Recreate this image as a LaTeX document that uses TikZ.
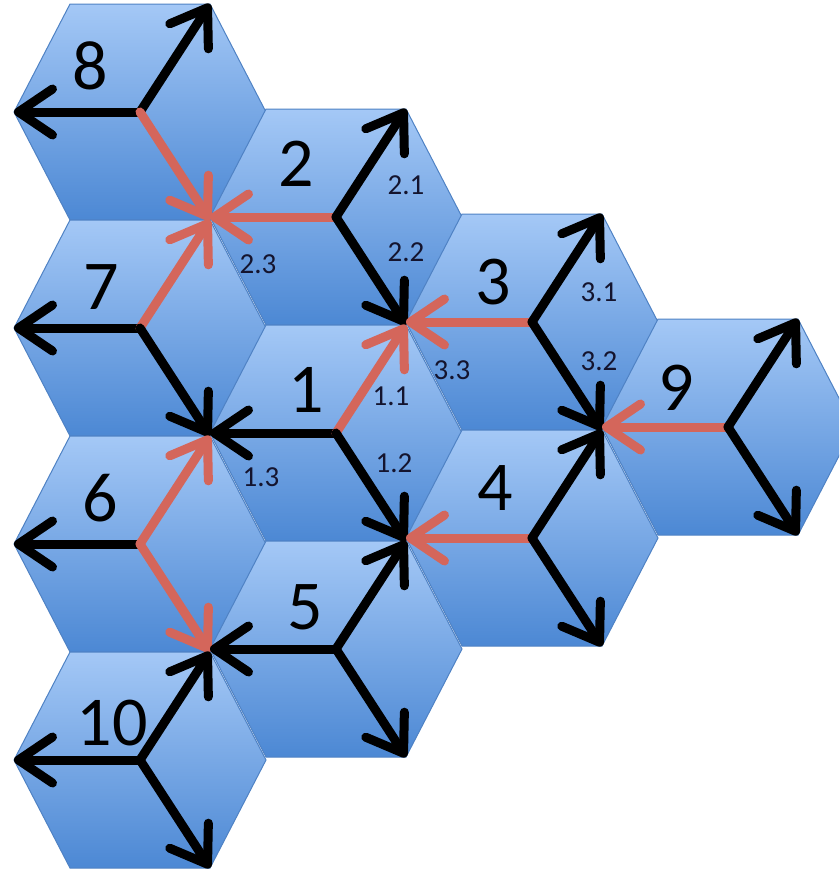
\documentclass[tikz,border=0pt]{standalone}
\usepackage{fontspec}
\setmainfont{Carlito}
\usetikzlibrary{arrows.meta}

\begin{document}
\begin{tikzpicture}[x=1pt,y=-1pt,
  esagono/.style={draw=bordoEsa, line width=1pt, top color=esaChiaro, bottom color=esaScuro},
  freccia/.style={line width=9pt, line cap=round, -{Straight Barb[length=34pt,width=46pt,round]}},
  nera/.style={freccia, draw=black},
  rossa/.style={freccia, draw=colRossa},
  numero/.style={font=\fontsize{70}{70}\selectfont, inner sep=0pt},
  sotto/.style={font=\fontsize{29}{29}\selectfont, inner sep=0pt, text=testoScuro}]

% Colori
\definecolor{esaChiaro}{HTML}{A4C8F6}
\definecolor{esaScuro}{HTML}{4C88D4}
\definecolor{bordoEsa}{HTML}{4F82C4}
\definecolor{colRossa}{HTML}{D4665B}
\definecolor{testoScuro}{HTML}{14142E}

% Dimensioni dell'esagono
\def\w{126}
\def\a{70}
\def\h{108}

\useasboundingbox (0,0) rectangle (839,876);
\clip (0,0) rectangle (839,876);

% Esagoni
\foreach \n/\x/\y in {8/140/112, 7/140/328, 6/140/544, 10/140/760,
                      2/336/217, 1/336/433, 5/336/649,
                      3/532/322, 4/532/538, 9/728/427}{
  \coordinate (h\n) at (\x,\y);
  \path[esagono] (h\n) ++(-\w,0) coordinate (h\n-o) -- ++(\w-\a,-\h)
    -- ++(2*\a,0) coordinate (h\n-ne) -- ++(\w-\a,\h)
    -- ++(\a-\w,\h) coordinate (h\n-se) -- ++(-2*\a,0) -- cycle;
}

% Esagono 8
\draw[nera] (h8) -- (h8-o);
\draw[nera] (h8) -- (h8-ne);
\draw[rossa] (h8) -- (h8-se);
\node[numero] (n8) at (90,66) {8};

% Esagono 7
\draw[nera] (h7) -- (h7-o);
\draw[rossa] (h7) -- (h7-ne);
\draw[nera] (h7) -- (h7-se);
\node[numero] (n7) at (101,287) {7};

% Esagono 6
\draw[nera] (h6) -- (h6-o);
\draw[rossa] (h6) -- (h6-ne);
\draw[rossa] (h6) -- (h6-se);
\node[numero] (n6) at (100,498) {6};

% Esagono 10
\draw[nera] (h10) -- (h10-o);
\draw[nera] (h10) -- (h10-ne);
\draw[nera] (h10) -- (h10-se);
\node[numero] (n10) at (112,723) {10};

% Esagono 2
\draw[rossa] (h2) -- (h2-o);
\draw[nera] (h2) -- (h2-ne);
\draw[nera] (h2) -- (h2-se);
\node[numero] (n2) at (296,164) {2};
\node[sotto] (l21) at (406,185) {2.1};
\node[sotto] (l22) at (406,252) {2.2};
\node[sotto] (l23) at (258,264) {2.3};

% Esagono 1
\draw[nera] (h1) -- (h1-o);
\draw[rossa] (h1) -- (h1-ne);
\draw[nera] (h1) -- (h1-se);
\node[numero] (n1) at (306,390) {1};
\node[sotto] (l11) at (391,396) {1.1};
\node[sotto] (l12) at (394,463) {1.2};
\node[sotto] (l13) at (261,477) {1.3};

% Esagono 5
\draw[nera] (h5) -- (h5-o);
\draw[nera] (h5) -- (h5-ne);
\draw[nera] (h5) -- (h5-se);
\node[numero] (n5) at (305,607) {5};

% Esagono 3
\draw[rossa] (h3) -- (h3-o);
\draw[nera] (h3) -- (h3-ne);
\draw[nera] (h3) -- (h3-se);
\node[numero] (n3) at (493,282) {3};
\node[sotto] (l31) at (599,292) {3.1};
\node[sotto] (l32) at (599,361) {3.2};
\node[sotto] (l33) at (452,370) {3.3};

% Esagono 4
\draw[rossa] (h4) -- (h4-o);
\draw[nera] (h4) -- (h4-ne);
\draw[nera] (h4) -- (h4-se);
\node[numero] (n4) at (495,488) {4};

% Esagono 9
\draw[rossa] (h9) -- (h9-o);
\draw[nera] (h9) -- (h9-ne);
\draw[nera] (h9) -- (h9-se);
\node[numero] (n9) at (676,388) {9};

\end{tikzpicture}
\end{document}
